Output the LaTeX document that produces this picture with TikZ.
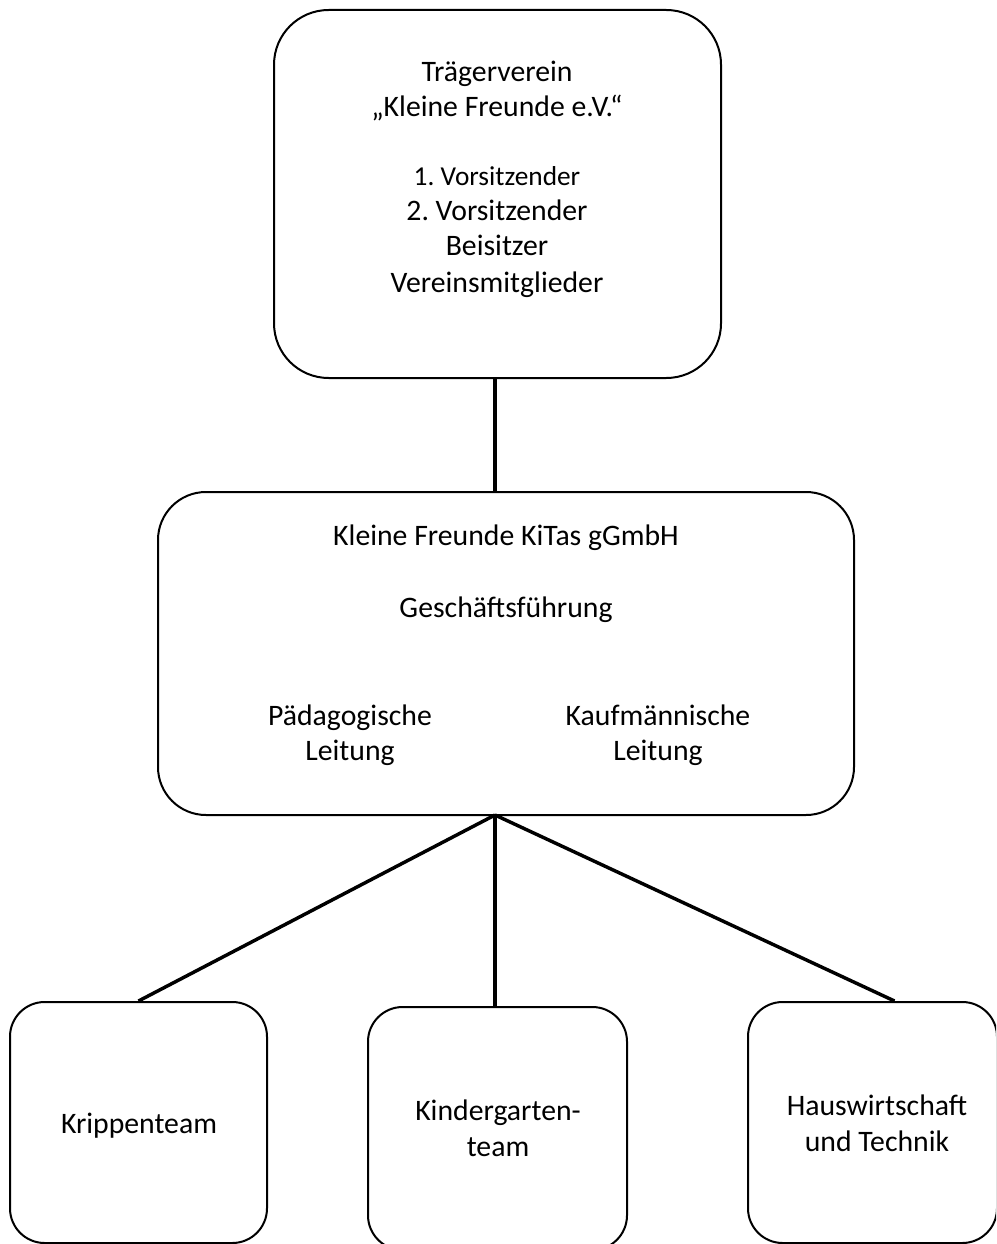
\documentclass[tikz,border=0pt]{standalone}
\usepackage{fontspec}
\setmainfont{Carlito}
\frenchspacing
\begin{document}
\begin{tikzpicture}[x=0.75pt,y=-0.75pt,
  box/.style={draw=black, line width=1.5pt, fill=white, inner sep=0pt},
  conn/.style={draw=black, line width=2.6pt},
  lbl/.style={anchor=base, inner sep=0pt, font=\fontsize{22.3}{27}\selectfont},
  lbls/.style={anchor=base, inner sep=0pt, font=\fontsize{20.5}{25}\selectfont}]
\useasboundingbox (0,0) rectangle (996,1244);
\clip (0,0) rectangle (996,1244);
% boxes
\node[box, rounded corners=41pt, minimum width=335.25pt, minimum height=276pt] (top) at (497.5,194) {};
\node[box, rounded corners=36pt, minimum width=522pt, minimum height=242.25pt] (mid) at (506,653.5) {};
\node[box, rounded corners=26pt, minimum width=192.75pt, minimum height=180.75pt] (krip) at (138.5,1122.5) {};
\node[box, rounded corners=26pt, minimum width=194.25pt, minimum height=182.25pt] (kind) at (497.5,1128.5) {};
\node[box, rounded corners=26pt, minimum width=186.75pt, minimum height=180.75pt] (haus) at (872.5,1122.5) {};
% connectors
\coordinate (hub) at (495,815);
\draw[conn] (top.south -| hub) -- (mid.north -| hub);
\draw[conn] (hub) -- (krip.north);
\draw[conn] (hub) -- (kind.north -| hub);
\draw[conn] (hub) -- ([xshift=16.5pt]haus.north);
% texts top
\node[lbl] (t1) at (497,82) {Trägerverein};
\node[lbl] (t2) at (497,117) {„Kleine Freunde e.V.“};
\node[lbls] (t3) at (497,186) {1. Vorsitzender};
\node[lbl] (t4) at (497,221) {2. Vorsitzender};
\node[lbl] (t5) at (497,256) {Beisitzer};
\node[lbl] (t6) at (497,292) {Vereinsmitglieder};
% texts middle
\node[lbl] (m1) at (506,545) {Kleine Freunde KiTas gGmbH};
\node[lbl] (m2) at (506,617) {Geschäftsführung};
\node[lbl] (m3) at (350,725) {Pädagogische};
\node[lbl] (m4) at (350,760) {Leitung};
\node[lbl] (m5) at (658,725) {Kaufmännische};
\node[lbl] (m6) at (658,760) {Leitung};
% texts bottom
\node[lbl] (b1) at (139,1133) {Krippenteam};
\node[lbl] (b2) at (498,1120) {Kindergarten-};
\node[lbl] (b3) at (498,1156) {team};
\node[lbl] (b4) at (877,1115) {Hauswirtschaft};
\node[lbl] (b5) at (877,1151) {und Technik};
\end{tikzpicture}
\end{document}
